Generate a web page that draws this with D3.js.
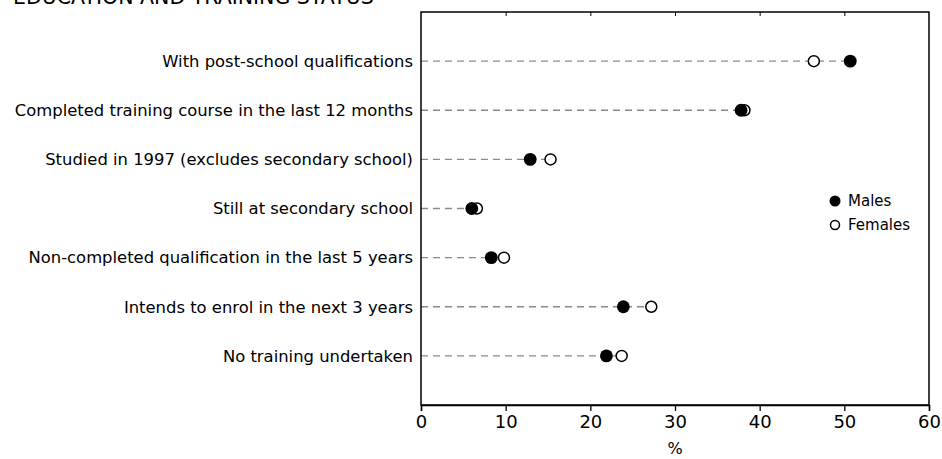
<!DOCTYPE html>
<html>
<head>
<meta charset="utf-8">
<script src="https://cdn.jsdelivr.net/npm/d3@7"></script>
<style>
  body { margin: 0; background: #fff; }
  svg text { font-family: "DejaVu Sans", "Liberation Sans", sans-serif; fill: #000; }
</style>
</head>
<body>
<div id="d3-container"></div>
<script>
/**
 * CONSTANTS AND GLOBALS
 * */
const width = 942,
  height = 459,
  margin = { top: 12, bottom: 54, left: 421, right: 13 };

// data
const categories = [
  "With post-school qualifications",
  "Completed training course in the last 12 months",
  "Studied in 1997 (excludes secondary school)",
  "Still at secondary school",
  "Non-completed qualification in the last 5 years",
  "Intends to enrol in the next 3 years",
  "No training undertaken"
];
const males = [50.7, 37.8, 12.9, 6.0, 8.3, 23.9, 21.9];
const females = [46.4, 38.2, 15.3, 6.6, 9.8, 27.2, 23.7];
const xTicks = [0, 10, 20, 30, 40, 50, 60];

const svg = d3.select("#d3-container")
  .append("svg")
  .attr("width", width)
  .attr("height", height);

// title, mostly cut off at top of the picture
svg.append("text")
  .attr("x", 13)
  .attr("y", 4)
  .style("font-size", "20.5px")
  .text("EDUCATION AND TRAINING STATUS");

const x = d3.scaleLinear()
  .domain([0, 60])
  .range([margin.left, width - margin.right]);

const y = d3.scalePoint()
  .domain(categories)
  .range([margin.top, height - margin.bottom])
  .padding(1);

const rows = categories.map((c, i) => ({ cat: c, m: males[i], f: females[i] }));

// dashed leader lines
svg.selectAll("line.lead")
  .data(rows)
  .join("line")
  .attr("class", "lead")
  .attr("x1", x(0))
  .attr("x2", d => x(Math.max(d.m, d.f)))
  .attr("y1", d => y(d.cat))
  .attr("y2", d => y(d.cat))
  .attr("stroke", "#8a8a8a")
  .attr("stroke-width", 1.4)
  .attr("stroke-dasharray", "7,5");

// frame
svg.append("rect")
  .attr("x", x(0))
  .attr("y", margin.top)
  .attr("width", x(60) - x(0))
  .attr("height", height - margin.bottom - margin.top)
  .attr("fill", "none")
  .attr("stroke", "#000")
  .attr("stroke-width", 1.5);

// bottom axis
const xAxis = svg.append("g")
  .attr("transform", `translate(0,${height - margin.bottom})`)
  .call(d3.axisBottom(x).tickValues(xTicks).tickSize(6).tickPadding(4));
xAxis.select(".domain").attr("stroke-width", 1.5);
xAxis.selectAll(".tick line").attr("stroke-width", 1.3);
xAxis.selectAll("text")
  .style("font-size", "18px")
  .style("font-family", "DejaVu Sans, sans-serif");

// top ticks pointing in
const topAxis = svg.append("g")
  .attr("transform", `translate(0,${margin.top})`)
  .call(d3.axisBottom(x).tickValues(xTicks.slice(1, -1)).tickSize(4).tickFormat(""));
topAxis.select(".domain").remove();

// left axis labels
const yAxis = svg.append("g")
  .attr("transform", `translate(${margin.left},0)`)
  .call(d3.axisLeft(y).tickSize(0).tickPadding(8));
yAxis.select(".domain").remove();
yAxis.selectAll("text")
  .style("font-size", "16.4px")
  .style("font-family", "DejaVu Sans, sans-serif");

svg.append("text")
  .attr("x", (x(0) + x(60)) / 2)
  .attr("y", 454)
  .attr("text-anchor", "middle")
  .style("font-size", "16px")
  .text("%");

// points: females underneath, males on top
svg.selectAll("circle.fem")
  .data(rows)
  .join("circle")
  .attr("class", "fem")
  .attr("cx", d => x(d.f))
  .attr("cy", d => y(d.cat))
  .attr("r", 5.5)
  .attr("fill", "#fff")
  .attr("stroke", "#000")
  .attr("stroke-width", 1.5);

svg.selectAll("circle.male")
  .data(rows)
  .join("circle")
  .attr("class", "male")
  .attr("cx", d => x(d.m))
  .attr("cy", d => y(d.cat))
  .attr("r", 6.4)
  .attr("fill", "#000");

// legend
const legend = svg.append("g").attr("transform", "translate(835,201)");
const legendItems = [
  { label: "Males", fill: "#000" },
  { label: "Females", fill: "#fff" }
];
legendItems.forEach((d, i) => {
  legend.append("circle")
    .attr("cx", 0)
    .attr("cy", i * 24)
    .attr("r", i === 0 ? 5.5 : 4.5)
    .attr("fill", d.fill)
    .attr("stroke", "#000")
    .attr("stroke-width", i === 0 ? 0 : 1.5);
  legend.append("text")
    .attr("x", 13)
    .attr("y", i * 24 + 5)
    .style("font-size", "15px")
    .text(d.label);
});
</script>
</body>
</html>
